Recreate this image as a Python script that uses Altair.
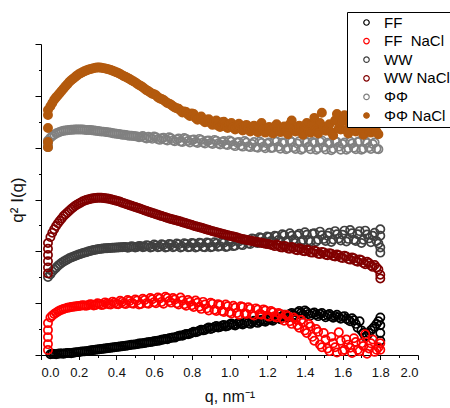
import altair as alt
import pandas as pd

# measurement grid A (nm^-1)
q = [0.05, 0.07, 0.09, 0.11, 0.13, 0.15, 0.17, 0.19, 0.21, 0.23,
     0.25, 0.27, 0.29, 0.31, 0.33, 0.35, 0.37, 0.39, 0.41, 0.43,
     0.45, 0.47, 0.49, 0.51, 0.53, 0.55, 0.57, 0.59, 0.61, 0.63,
     0.65, 0.67, 0.69, 0.71, 0.73, 0.75, 0.77, 0.79, 0.81, 0.83,
     0.85, 0.87, 0.89, 0.91, 0.93, 0.95, 0.97, 0.99, 1.01, 1.03,
     1.05, 1.07, 1.09, 1.11, 1.13, 1.15, 1.17, 1.19, 1.21, 1.23,
     1.25, 1.27, 1.29, 1.31, 1.33, 1.35, 1.37, 1.39, 1.41, 1.43,
     1.45, 1.47, 1.49, 1.51, 1.53, 1.55, 1.57, 1.59, 1.61, 1.63,
     1.65, 1.67, 1.69, 1.71, 1.73, 1.75, 1.77, 1.79]

# measurement grid B (nm^-1)
q2 = [0.06, 0.08, 0.10, 0.12, 0.14, 0.16, 0.18, 0.20, 0.22, 0.24,
      0.26, 0.28, 0.30, 0.32, 0.34, 0.36, 0.38, 0.40, 0.42, 0.44,
      0.46, 0.48, 0.50, 0.52, 0.54, 0.56, 0.58, 0.60, 0.62, 0.64,
      0.66, 0.68, 0.70, 0.72, 0.74, 0.76, 0.78, 0.80, 0.82, 0.84,
      0.86, 0.88, 0.90, 0.92, 0.94, 0.96, 0.98, 1.00, 1.02, 1.04,
      1.06, 1.08, 1.10, 1.12, 1.14, 1.16, 1.18, 1.20, 1.22, 1.24,
      1.26, 1.28, 1.30, 1.32, 1.34, 1.36, 1.38, 1.40, 1.42, 1.44,
      1.46, 1.48, 1.50, 1.52, 1.54, 1.56, 1.58, 1.60, 1.62, 1.64,
      1.66, 1.68, 1.70, 1.72, 1.74, 1.76, 1.78]

ff = [0.03, 0.04, 0.05, 0.06, 0.07, 0.08, 0.09, 0.11, 0.13, 0.14,
      0.16, 0.18, 0.20, 0.22, 0.24, 0.26, 0.28, 0.30, 0.32, 0.34,
      0.36, 0.38, 0.40, 0.42, 0.44, 0.46, 0.49, 0.51, 0.54, 0.56,
      0.60, 0.61, 0.66, 0.67, 0.73, 0.74, 0.81, 0.82, 0.90, 0.90,
      0.98, 0.97, 1.06, 1.03, 1.12, 1.08, 1.16, 1.12, 1.22, 1.14,
      1.25, 1.18, 1.28, 1.20, 1.32, 1.24, 1.36, 1.28, 1.40, 1.32,
      1.46, 1.38, 1.55, 1.45, 1.62, 1.52, 1.70, 1.56, 1.66, 1.52,
      1.64, 1.50, 1.62, 1.46, 1.58, 1.44, 1.55, 1.40, 1.50, 1.35,
      1.42, 1.20, 1.30, 0.85, 0.75, 0.95, 1.10, 1.30]
ff_b = [0.05, 0.03, 0.06, 0.05, 0.08, 0.07, 0.10, 0.11, 0.14, 0.15,
        0.17, 0.19, 0.21, 0.23, 0.25, 0.27, 0.29, 0.31, 0.33, 0.35,
        0.37, 0.40, 0.41, 0.44, 0.45, 0.48, 0.50, 0.53, 0.55, 0.59,
        0.62, 0.65, 0.68, 0.71, 0.75, 0.78, 0.80, 0.86, 0.88, 0.94,
        0.95, 1.02, 1.00, 1.08, 1.06, 1.13, 1.10, 1.18, 1.17, 1.20,
        1.21, 1.24, 1.23, 1.27, 1.26, 1.30, 1.31, 1.35, 1.36, 1.40,
        1.42, 1.50, 1.48, 1.58, 1.55, 1.64, 1.62, 1.72, 1.58, 1.60,
        1.56, 1.58, 1.52, 1.54, 1.50, 1.50, 1.46, 1.48, 1.40, 1.30,
        1.34, 1.05, 0.95, 0.70, 0.85, 1.02, 1.20]

ff_nacl = [1.45, 1.58, 1.68, 1.75, 1.80, 1.83, 1.86, 1.88, 1.90, 1.91,
           1.92, 1.95, 1.93, 1.97, 1.94, 1.99, 1.95, 2.02, 1.96, 2.05,
           1.97, 2.08, 1.98, 2.10, 1.97, 2.12, 1.98, 2.15, 2.00, 2.18,
           1.98, 2.20, 2.02, 2.14, 1.95, 2.10, 1.90, 2.05, 1.85, 2.02,
           1.78, 1.95, 1.72, 1.98, 1.70, 1.92, 1.66, 1.88, 1.60, 1.82,
           1.55, 1.85, 1.58, 1.78, 1.52, 1.75, 1.55, 1.72, 1.48, 1.65,
           1.45, 1.58, 1.32, 1.50, 1.20, 1.38, 1.05, 1.25, 0.85, 1.10,
           0.55, 0.90, 0.30, 0.60, 0.15, 0.45, 0.10, 0.55, 0.20, 0.40,
           0.08, 0.50, 0.15, 0.35, 0.05, 0.45, 0.12, 0.30]
ff_nacl_b = [1.52, 1.63, 1.72, 1.78, 1.82, 1.85, 1.87, 1.89, 1.92, 1.90,
             1.96, 1.91, 2.00, 1.93, 2.03, 1.96, 2.06, 1.97, 2.09, 1.99,
             2.12, 2.00, 2.14, 1.95, 2.17, 2.00, 2.20, 2.04, 2.22, 2.05,
             2.25, 2.08, 2.20, 2.00, 2.22, 1.96, 2.12, 1.92, 2.10, 1.86,
             2.05, 1.80, 2.02, 1.75, 1.96, 1.70, 1.95, 1.65, 1.90, 1.62,
             1.88, 1.60, 1.84, 1.56, 1.80, 1.58, 1.76, 1.52, 1.70, 1.50,
             1.62, 1.42, 1.55, 1.30, 1.45, 1.15, 1.35, 0.95, 1.20, 0.70,
             1.00, 0.40, 0.85, 0.25, 0.70, 0.30, 0.88, 0.15, 0.60, 0.28,
             0.65, 0.20, 0.45, 0.80, 0.25, 0.60, 0.20]

ww = [3.12, 3.30, 3.44, 3.56, 3.65, 3.73, 3.79, 3.85, 3.90, 3.95,
      3.99, 4.03, 4.06, 4.09, 4.11, 4.12, 4.13, 4.14, 4.15, 4.16,
      4.17, 4.16, 4.18, 4.17, 4.20, 4.18, 4.22, 4.17, 4.23, 4.18,
      4.25, 4.17, 4.26, 4.19, 4.27, 4.18, 4.28, 4.17, 4.30, 4.18,
      4.31, 4.16, 4.32, 4.18, 4.30, 4.20, 4.33, 4.19, 4.35, 4.22,
      4.38, 4.24, 4.42, 4.28, 4.48, 4.32, 4.52, 4.36, 4.55, 4.38,
      4.58, 4.40, 4.62, 4.42, 4.60, 4.40, 4.68, 4.44, 4.64, 4.38,
      4.70, 4.45, 4.62, 4.40, 4.72, 4.46, 4.66, 4.42, 4.80, 4.48,
      4.70, 4.40, 4.78, 4.45, 4.65, 4.35, 4.72, 4.30]
ww_b = [3.22, 3.37, 3.50, 3.61, 3.69, 3.76, 3.82, 3.88, 3.93, 3.97,
        4.01, 4.05, 4.08, 4.10, 4.12, 4.13, 4.14, 4.15, 4.16, 4.17,
        4.14, 4.20, 4.15, 4.21, 4.16, 4.24, 4.15, 4.26, 4.16, 4.27,
        4.15, 4.28, 4.16, 4.30, 4.15, 4.31, 4.16, 4.32, 4.15, 4.33,
        4.17, 4.34, 4.16, 4.35, 4.18, 4.36, 4.17, 4.38, 4.20, 4.40,
        4.26, 4.45, 4.30, 4.50, 4.34, 4.54, 4.38, 4.57, 4.40, 4.60,
        4.44, 4.66, 4.38, 4.70, 4.46, 4.62, 4.36, 4.74, 4.42, 4.68,
        4.38, 4.76, 4.48, 4.60, 4.36, 4.78, 4.50, 4.64, 4.38, 4.82,
        4.45, 4.66, 4.32, 4.80, 4.50, 4.60, 4.40]

ww_nacl = [4.55, 4.85, 5.08, 5.27, 5.43, 5.57, 5.69, 5.80, 5.88, 5.95,
           6.00, 6.04, 6.06, 6.07, 6.06, 6.04, 6.01, 5.97, 5.93, 5.88,
           5.83, 5.78, 5.73, 5.68, 5.63, 5.58, 5.53, 5.48, 5.43, 5.38,
           5.34, 5.29, 5.25, 5.21, 5.17, 5.12, 5.08, 5.04, 4.99, 4.95,
           4.91, 4.86, 4.82, 4.78, 4.74, 4.70, 4.66, 4.62, 4.58, 4.55,
           4.51, 4.47, 4.44, 4.41, 4.38, 4.35, 4.32, 4.29, 4.27, 4.24,
           4.26, 4.16, 4.21, 4.11, 4.17, 4.06, 4.12, 4.01, 4.07, 3.96,
           4.03, 3.91, 3.98, 3.87, 3.93, 3.82, 3.88, 3.76, 3.83, 3.70,
           3.76, 3.63, 3.69, 3.55, 3.60, 3.45, 3.47, 3.30]
ww_nacl_b = [4.72, 4.98, 5.18, 5.36, 5.50, 5.63, 5.75, 5.84, 5.92, 5.98,
             6.02, 6.05, 6.07, 6.07, 6.05, 6.03, 5.99, 5.95, 5.91, 5.86,
             5.81, 5.76, 5.71, 5.66, 5.61, 5.56, 5.51, 5.46, 5.41, 5.36,
             5.32, 5.27, 5.23, 5.19, 5.15, 5.10, 5.06, 5.02, 4.97, 4.93,
             4.89, 4.84, 4.80, 4.76, 4.72, 4.68, 4.64, 4.60, 4.57, 4.53,
             4.49, 4.46, 4.43, 4.40, 4.37, 4.34, 4.31, 4.28, 4.25, 4.20,
             4.23, 4.15, 4.19, 4.10, 4.14, 4.04, 4.09, 4.00, 4.04, 3.95,
             4.00, 3.90, 3.96, 3.85, 3.91, 3.80, 3.85, 3.74, 3.80, 3.68,
             3.73, 3.60, 3.66, 3.50, 3.55, 3.40, 3.38]

phi = [8.38, 8.50, 8.58, 8.63, 8.66, 8.68, 8.69, 8.70, 8.70, 8.69,
       8.68, 8.67, 8.65, 8.63, 8.62, 8.60, 8.58, 8.55, 8.53, 8.50,
       8.49, 8.46, 8.45, 8.43, 8.42, 8.38, 8.42, 8.34, 8.40, 8.30,
       8.38, 8.28, 8.36, 8.25, 8.35, 8.22, 8.34, 8.20, 8.32, 8.18,
       8.30, 8.16, 8.28, 8.14, 8.27, 8.12, 8.26, 8.10, 8.24, 8.06,
       8.22, 8.04, 8.20, 8.02, 8.22, 8.00, 8.18, 7.98, 8.20, 8.00,
       8.24, 7.96, 8.18, 7.98, 8.22, 7.95, 8.25, 7.97, 8.20, 7.94,
       8.18, 7.98, 8.28, 7.93, 8.15, 7.96, 8.22, 7.92, 8.20, 7.98,
       8.16, 7.94, 8.25, 7.96, 8.18, 7.95, 8.20, 7.94]
phi_b = [8.45, 8.55, 8.61, 8.65, 8.67, 8.69, 8.70, 8.70, 8.70, 8.68,
         8.68, 8.66, 8.64, 8.62, 8.61, 8.59, 8.56, 8.54, 8.52, 8.50,
         8.47, 8.46, 8.44, 8.40, 8.45, 8.35, 8.38, 8.43, 8.33, 8.36,
         8.31, 8.40, 8.28, 8.32, 8.24, 8.37, 8.26, 8.30, 8.22, 8.34,
         8.20, 8.27, 8.18, 8.30, 8.16, 8.22, 8.12, 8.28, 8.10, 8.20,
         8.08, 8.26, 8.05, 8.14, 8.02, 8.24, 8.04, 8.16, 7.99, 8.26,
         8.04, 8.20, 7.94, 8.28, 8.02, 8.16, 7.92, 8.27, 8.04, 8.22,
         7.92, 8.24, 8.02, 8.19, 7.90, 8.26, 8.04, 8.14, 7.92, 8.24,
         8.00, 8.22, 7.92, 8.26, 8.02, 8.14, 7.96]

phi_nacl = [9.60, 9.85, 10.02, 10.20, 10.37, 10.53, 10.66, 10.78, 10.87, 10.95,
            11.01, 11.05, 11.08, 11.09, 11.07, 11.04, 11.00, 10.94, 10.88, 10.80,
            10.73, 10.65, 10.56, 10.47, 10.38, 10.27, 10.18, 10.08, 10.02, 9.90,
            9.84, 9.72, 9.66, 9.55, 9.50, 9.36, 9.38, 9.22, 9.30, 9.08,
            9.20, 8.98, 9.10, 8.88, 9.05, 8.80, 9.00, 8.76, 8.95, 8.70,
            8.92, 8.66, 8.88, 8.62, 8.85, 8.60, 8.95, 8.58, 8.80, 8.55,
            8.90, 8.60, 8.82, 8.52, 9.05, 8.62, 8.85, 8.50, 8.95, 8.58,
            9.15, 8.55, 9.35, 8.65, 8.90, 8.48, 9.30, 8.70, 9.25, 8.55,
            9.10, 8.62, 8.95, 8.50, 8.85, 8.58, 8.80, 8.52]
phi_nacl_b = [9.72, 9.94, 10.11, 10.28, 10.45, 10.60, 10.72, 10.83, 10.91, 10.98,
              11.03, 11.07, 11.09, 11.08, 11.06, 11.02, 10.97, 10.91, 10.84, 10.76,
              10.69, 10.60, 10.52, 10.42, 10.33, 10.22, 10.13, 10.06, 9.95, 9.88,
              9.78, 9.70, 9.60, 9.52, 9.43, 9.40, 9.28, 9.32, 9.15, 9.12,
              9.05, 9.08, 8.95, 9.00, 8.85, 8.98, 8.82, 8.90, 8.78, 8.85,
              8.75, 8.80, 8.70, 8.78, 8.68, 8.82, 8.72, 8.76, 8.66, 8.82,
              8.70, 8.75, 8.62, 8.90, 8.72, 8.70, 8.62, 8.80, 8.66, 8.92,
              8.70, 8.95, 8.80, 8.72, 8.60, 9.05, 8.75, 9.02, 8.68, 8.88,
              8.72, 8.80, 8.66, 8.75, 8.68, 8.70, 8.62]

# steep first points (q ~ 0.037) and last points (q = 1.80)
q_first = 0.037
q_last = 1.80
ff_first, ff_last = [], [1.45, 1.15, 0.85, 0.55]
ff_nacl_first, ff_nacl_last = [0.19, 0.42, 0.69, 0.96, 1.23], [0.45, 0.20]
ww_first, ww_last = [3.01], [4.85, 4.60, 4.15, 3.95]
ww_nacl_first, ww_nacl_last = [3.15, 3.38, 3.62, 3.86, 4.10, 4.32], [3.10, 2.95]
phi_first, phi_last = [8.02, 8.15, 8.28], []
phi_nacl_first, phi_nacl_last = [8.02, 8.22, 8.76, 9.26, 9.45], []

names = ["FF", "FF\u00a0 NaCl", "WW", "WW NaCl", "ΦΦ", "ΦΦ NaCl"]
stroke_colors = ["#000000", "#ff0000", "#404040", "#800000", "#808080", "#b35a0e"]
fill_colors = ["transparent", "transparent", "transparent", "transparent", "transparent", "#b35a0e"]

series = [
    (ff_first, ff, ff_b, ff_last),
    (ff_nacl_first, ff_nacl, ff_nacl_b, ff_nacl_last),
    (ww_first, ww, ww_b, ww_last),
    (ww_nacl_first, ww_nacl, ww_nacl_b, ww_nacl_last),
    (phi_first, phi, phi_b, phi_last),
    (phi_nacl_first, phi_nacl, phi_nacl_b, phi_nacl_last),
]

rows = []
for name, (first, main_a, main_b, last) in zip(names, series):
    pts = [(q_first, v) for v in first]
    pts += list(zip(q, main_a)) + list(zip(q2, main_b))
    pts.sort(key=lambda p: p[0])
    pts += [(q_last, v) for v in last]
    for qq, v in pts:
        rows.append({"q": qq, "I": v, "series": name})
df = pd.DataFrame(rows)

FONT = "Liberation Sans"
x_scale = alt.Scale(domain=[0, 2.0], nice=False, zero=False)
y_scale = alt.Scale(domain=[0, 12], nice=False, zero=False)

legend = alt.Legend(
    title=None, orient="none", legendX=306, legendY=-32,
    fillColor="white", strokeColor="black", padding=3,
    symbolSize=30, symbolStrokeWidth=1.2, symbolOffset=9, labelOffset=10,
    labelFontSize=15, labelFont=FONT, labelColor="black", rowPadding=2.6,
    labelLimit=300,
)

points = alt.Chart(df).mark_point(size=68, strokeWidth=1.7, opacity=1, filled=False).encode(
    x=alt.X("q:Q", scale=x_scale, axis=alt.Axis(
        values=[0.0, 0.2, 0.4, 0.6, 0.8, 1.0, 1.2, 1.4, 1.6, 1.8, 2.0],
        format=".1f", title="q, nm⁻¹", tickSize=4.5, labelPadding=7,
        titlePadding=9, orient="bottom")),
    y=alt.Y("I:Q", scale=y_scale, axis=alt.Axis(
        values=[0, 2, 4, 6, 8, 10, 12], labels=False, title="q² I(q)",
        tickSize=6, titlePadding=8, titleFontSize=17, orient="left")),
    stroke=alt.Stroke("series:N", scale=alt.Scale(domain=names, range=stroke_colors), legend=legend),
    fill=alt.Fill("series:N", scale=alt.Scale(domain=names, range=fill_colors), legend=legend),
)

minor = alt.Chart(pd.DataFrame({"q": [0.0], "I": [0.0]})).mark_point(opacity=0).encode(
    x=alt.X("q:Q", scale=x_scale, axis=alt.Axis(
        values=[0.1, 0.3, 0.5, 0.7, 0.9, 1.1, 1.3, 1.5, 1.7, 1.9],
        labels=False, domain=False, tickSize=2.5, title=None, orient="bottom")),
    y=alt.Y("I:Q", scale=y_scale, axis=alt.Axis(
        values=[1, 3, 5, 7, 9, 11], labels=False, domain=False,
        tickSize=2.5, title=None, orient="left")),
)

chart = alt.layer(points, minor).resolve_axis(
    x="independent", y="independent"
).properties(
    width=377, height=311,
    autosize=alt.AutoSizeParams(type="none"),
    padding={"left": 41, "top": 44, "right": 32, "bottom": 53},
).configure_view(
    strokeWidth=0
).configure_axis(
    grid=False, domainColor="black", tickColor="black", domainWidth=1, tickWidth=1,
    labelFont=FONT, labelFontSize=13, labelColor="#111111",
    titleFont=FONT, titleFontSize=16, titleFontWeight="normal", titleColor="#111111",
)

chart.save("out.html", embed_options={"renderer": "svg", "actions": False})
